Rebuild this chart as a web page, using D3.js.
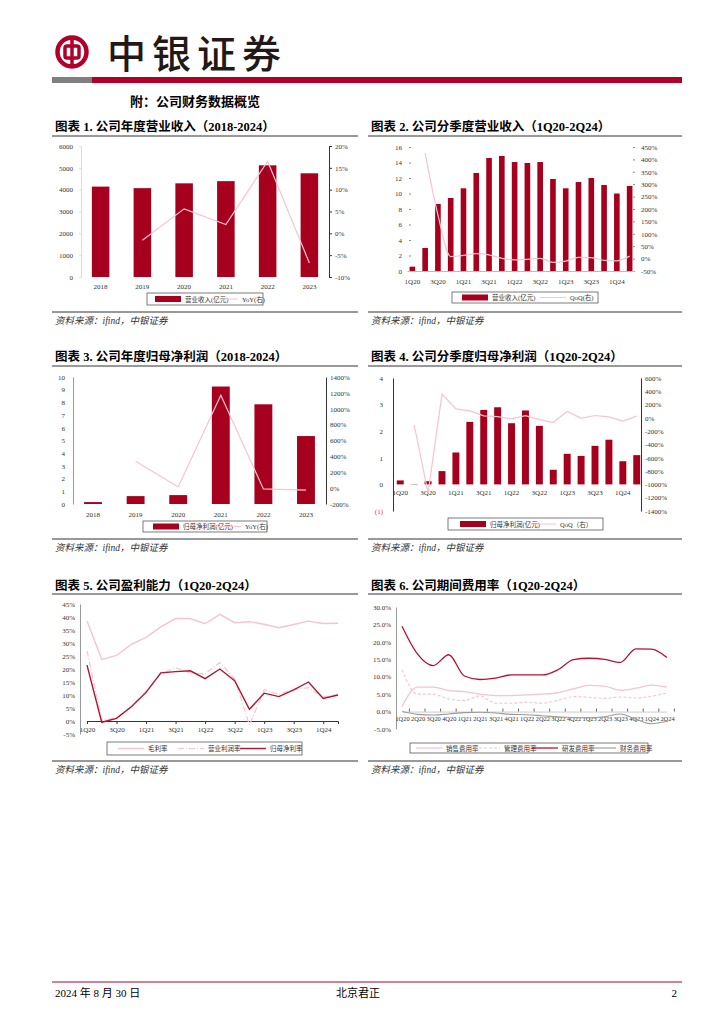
<!DOCTYPE html>
<html>
<head>
<meta charset="utf-8">
<script src="https://cdn.jsdelivr.net/npm/d3@7"></script>
<style>
  body { margin: 0; background: #fff; }
  svg { display: block; }
  text { font-family: "Liberation Serif", "Noto Sans CJK SC", serif; }
</style>
</head>
<body>
<svg id="page" width="724" height="1024"></svg>
<script>
// ---- data ----
const years = ["2018", "2019", "2020", "2021", "2022", "2023"];
const quarters = ["1Q20", "2Q20", "3Q20", "4Q20", "1Q21", "2Q21", "3Q21", "4Q21", "1Q22", "2Q22",
  "3Q22", "4Q22", "1Q23", "2Q23", "3Q23", "4Q23", "1Q24", "2Q24"];

const annualRevenue = [4140, 4070, 4290, 4390, 5115, 4750];
const annualRevenueYoY = [null, -1.6, 5.6, 2.0, 16.5, -6.8];

const qRevenue = [0.56, 2.97, 8.65, 9.42, 10.67, 12.65, 14.58, 14.84, 14.06, 13.94, 14.06, 11.87,
  10.67, 11.48, 12.0, 11.1, 10.0, 10.97];
const qRevenueQoQ = [null, 425, 176, 8, 13, 20, 15, 1, -5, -3, 1, -15, -10, 5, 4, -7, -9, 10];

const annualProfit = [0.15, 0.62, 0.7, 9.25, 7.85, 5.35];
const annualProfitYoY = [null, 338, 15, 1170, -10, -25];

const qProfit = [0.15, -0.01, 0.12, 0.5, 1.2, 2.35, 2.8, 2.9, 2.3, 2.78, 2.2, 0.55, 1.15, 1.07,
  1.45, 1.68, 0.87, 1.1];
const qProfitQoQ = [null, -106, -1130, 358, 136, 106, 30, 20, -15, 35, -25, -70, 100, -7, 36, 16, -48, 26];

const grossMargin = [38.5, 23.7, 25.2, 29.5, 32.2, 36.2, 39.4, 39.4, 37.4, 41.0, 37.8, 38.2,
  37.2, 35.9, 37.1, 38.4, 37.5, 37.6];
const opMargin = [27, 0.3, 1.2, 5.5, 11.5, 18.2, 20.5, 18.5, 18.2, 22.5, 16.2, -1.5,
  12, 10.2, 12.2, 12.8, 9.2, 10.3];
const netMargin = [21.5, -0.5, 1.0, 5.5, 11.0, 18.5, 19.0, 19.3, 16.3, 20.0, 15.5, 4.5,
  10.7, 9.4, 12.0, 15.0, 8.7, 10.0];

const salesRate = [1.5, 7.0, 7.0, 6.0, 5.7, 5.0, 4.6, 4.6, 4.8, 5.0, 5.4, 6.5, 7.5, 7.3, 6.1, 6.7, 7.6, 7.0];
const adminRate = [12, 5.0, 5.0, 3.6, 3.2, 4.5, 2.4, 2.4, 2.7, 2.4, 3.2, 4.3, 4.1, 3.8, 4.2, 3.9, 4.4, 5.3];
const rdRate = [24.5, 16.5, 13.2, 16.3, 10.2, 9.2, 9.6, 10.5, 10.5, 10.5, 12.0, 14.9, 15.3, 15.0, 14.1,
  18.0, 17.9, 15.5];
const finRate = [0, -0.8, -1.0, -0.7, -0.3, -0.2, -0.4, -0.8, -0.9, -1.2, -1.5, -1.7, -1.8, -1.5, -0.7,
  -2.2, -3.5, -2.8];

// ---- styles ----
const RED = "#A6001E";
const BRAND = "#B0002A";
const PINK = "#F6C4CE";
const DARKLINE = "#B3132F";
const GREY = "#9A9A9A";

const svg = d3.select("#page");

// ---- header ----
const logo = svg.append("g").attr("transform", "translate(72,52)");
logo.append("circle").attr("r", 14.5).attr("fill", "none").attr("stroke", BRAND).attr("stroke-width", 4.5);
logo.append("rect").attr("x", -7).attr("y", -6).attr("width", 14).attr("height", 12).attr("rx", 2)
  .attr("fill", "none").attr("stroke", BRAND).attr("stroke-width", 3.5);
logo.append("line").attr("x1", 0).attr("x2", 0).attr("y1", -14).attr("y2", 14)
  .attr("stroke", BRAND).attr("stroke-width", 3.5);

svg.append("text").attr("x", 107).attr("y", 68).attr("font-size", 39).attr("letter-spacing", 6)
  .attr("fill", "#231815").style("font-family", "'Noto Sans CJK SC'").style("font-weight", 500)
  .text("中银证券");

svg.append("rect").attr("x", 52).attr("y", 77).attr("width", 630).attr("height", 6).attr("fill", BRAND);
svg.append("rect").attr("x", 52).attr("y", 77).attr("width", 40).attr("height", 6).attr("fill", "#7F7F7F");

svg.append("text").attr("x", 130).attr("y", 106).attr("font-size", 13).attr("font-weight", "bold")
  .text("附：公司财务数据概览");

// ---- footer ----
svg.append("line").attr("x1", 52).attr("x2", 682).attr("y1", 982).attr("y2", 982)
  .attr("stroke", BRAND).attr("stroke-width", 1);
svg.append("text").attr("x", 55).attr("y", 997).attr("font-size", 11).text("2024 年 8 月 30 日");
svg.append("text").attr("x", 358).attr("y", 997).attr("font-size", 11).attr("text-anchor", "middle").text("北京君正");
svg.append("text").attr("x", 677).attr("y", 997).attr("font-size", 11).attr("text-anchor", "end").text("2");

// ---- panel frame ----
function panel(x0, x1, titleY, lineY, bottomY, title) {
  svg.append("text").attr("x", x0 + 3).attr("y", titleY).attr("font-size", 12.5)
    .attr("font-weight", "bold").text(title);
  svg.append("line").attr("x1", x0).attr("x2", x1).attr("y1", lineY).attr("y2", lineY)
    .attr("stroke", "#333").attr("stroke-width", 1);
  svg.append("line").attr("x1", x0).attr("x2", x1).attr("y1", bottomY).attr("y2", bottomY)
    .attr("stroke", "#333").attr("stroke-width", 1);
  svg.append("text").attr("x", x0 + 3).attr("y", bottomY + 12).attr("font-size", 9.5)
    .attr("font-style", "italic").attr("fill", "#333").text("资料来源：ifind，中银证券");
}

function styleAxis(g, domainColor, tickColor) {
  g.selectAll("text").attr("font-size", 7).attr("fill", "#333");
  g.select(".domain").attr("stroke", domainColor || "none");
  g.selectAll(".tick line").attr("stroke", tickColor || "#666");
}

function legend(x, y, w, h, items) {
  svg.append("rect").attr("x", x).attr("y", y).attr("width", w).attr("height", h)
    .attr("fill", "#fff").attr("stroke", "#444").attr("stroke-width", 0.7);
  items.forEach(it => {
    const cy = y + h / 2;
    if (it.type === "bar") {
      svg.append("rect").attr("x", it.x).attr("y", cy - 3).attr("width", 26).attr("height", 6).attr("fill", it.color);
    } else {
      svg.append("line").attr("x1", it.x).attr("x2", it.x + 26).attr("y1", cy).attr("y2", cy)
        .attr("stroke", it.color).attr("stroke-width", it.width || 1)
        .attr("stroke-dasharray", it.dash || null);
    }
    svg.append("text").attr("x", it.x + 30).attr("y", cy + 2.5).attr("font-size", 6.5)
      .attr("fill", "#333").text(it.label);
  });
}

// ---- chart 1 ----
panel(52, 358, 131, 136, 312, "图表 1. 公司年度营业收入（2018-2024）");
{
  const x = d3.scaleBand().domain(years).range([81, 329]).paddingInner(0.58).paddingOuter(0.26);
  const yL = d3.scaleLinear().domain([0, 6000]).range([277, 146]);
  const yR = d3.scaleLinear().domain([-10, 20]).range([277, 146]);
  svg.append("g").selectAll("rect").data(annualRevenue).join("rect")
    .attr("x", (d, i) => x(years[i])).attr("width", x.bandwidth())
    .attr("y", d => yL(d)).attr("height", d => yL(0) - yL(d)).attr("fill", RED);
  styleAxis(svg.append("g").attr("transform", "translate(81,0)")
    .call(d3.axisLeft(yL).tickValues(d3.range(0, 6001, 1000)).tickFormat(d3.format("d"))
      .tickSize(2).tickPadding(6)), "#ddd", "#ddd");
  styleAxis(svg.append("g").attr("transform", "translate(329,0)")
    .call(d3.axisRight(yR).tickValues(d3.range(-10, 21, 5)).tickSize(3).tickFormat(d => d + "%")), "#333", "#333");
  styleAxis(svg.append("g").attr("transform", "translate(0,277)")
    .call(d3.axisBottom(x).tickSize(0).tickPadding(7)), "none");
  const line = d3.line().defined(d => d != null).x((d, i) => x(years[i]) + x.bandwidth() / 2).y(d => yR(d));
  svg.append("path").datum(annualRevenueYoY).attr("d", line).attr("fill", "none")
    .attr("stroke", PINK).attr("stroke-width", 1.2);
  legend(147, 293, 116, 12, [
    { type: "bar", x: 155, color: RED, label: "营业收入(亿元)" },
    { type: "line", x: 212, color: PINK, label: "YoY(右)" }
  ]);
}

// ---- chart 2 ----
panel(368, 682, 131, 136, 312, "图表 2. 公司分季度营业收入（1Q20-2Q24）");
{
  const x = d3.scaleBand().domain(quarters).range([407, 635]).paddingInner(0.56).paddingOuter(0.2);
  const yL = d3.scaleLinear().domain([0, 16]).range([271, 147]);
  const yR = d3.scaleLinear().domain([-50, 450]).range([271, 147]);
  svg.append("g").selectAll("rect").data(qRevenue).join("rect")
    .attr("x", (d, i) => x(quarters[i])).attr("width", x.bandwidth())
    .attr("y", d => yL(d)).attr("height", d => yL(0) - yL(d)).attr("fill", RED);
  styleAxis(svg.append("g").attr("transform", "translate(411,0)")
    .call(d3.axisLeft(yL).tickValues(d3.range(0, 17, 2)).tickSize(2).tickPadding(7)), "none", "#888");
  styleAxis(svg.append("g").attr("transform", "translate(633,0)")
    .call(d3.axisRight(yR).tickValues(d3.range(-50, 451, 50)).tickSize(2).tickPadding(6).tickFormat(d => d + "%")), "none", "#888");
  const xa = svg.append("g").attr("transform", "translate(0,271)")
    .call(d3.axisBottom(x).tickValues(quarters.filter((q, i) => i % 2 === 0)).tickSize(0).tickPadding(8));
  styleAxis(xa, "#bbb");
  const line = d3.line().defined(d => d != null).curve(d3.curveMonotoneX)
    .x((d, i) => x(quarters[i]) + x.bandwidth() / 2).y(d => yR(d));
  svg.append("path").datum(qRevenueQoQ).attr("d", line).attr("fill", "none")
    .attr("stroke", PINK).attr("stroke-width", 1.2);
  legend(452, 292, 146, 11, [
    { type: "bar", x: 462, color: RED, label: "营业收入(亿元)" },
    { type: "line", x: 540, color: PINK, label: "QoQ(右)" }
  ]);
}

// ---- chart 3 ----
panel(52, 358, 361, 366, 539, "图表 3. 公司年度归母净利润（2018-2024）");
{
  const x = d3.scaleBand().domain(years).range([73, 326]).paddingInner(0.58).paddingOuter(0.26);
  const yL = d3.scaleLinear().domain([0, 10]).range([504, 377]);
  const yR = d3.scaleLinear().domain([-200, 1400]).range([504, 377]);
  svg.append("g").selectAll("rect").data(annualProfit).join("rect")
    .attr("x", (d, i) => x(years[i])).attr("width", x.bandwidth())
    .attr("y", d => yL(d)).attr("height", d => yL(0) - yL(d)).attr("fill", RED);
  styleAxis(svg.append("g").attr("transform", "translate(73,0)")
    .call(d3.axisLeft(yL).tickValues(d3.range(0, 11, 1)).tickSize(0).tickPadding(8)), "#999");
  styleAxis(svg.append("g").attr("transform", "translate(326,0)")
    .call(d3.axisRight(yR).tickValues(d3.range(-200, 1401, 200)).tickSize(0).tickPadding(4).tickFormat(d => d + "%")), "#333");
  styleAxis(svg.append("g").attr("transform", "translate(0,504)")
    .call(d3.axisBottom(x).tickSize(0).tickPadding(8)), "none");
  const line = d3.line().defined(d => d != null).x((d, i) => x(years[i]) + x.bandwidth() / 2).y(d => yR(d));
  svg.append("path").datum(annualProfitYoY).attr("d", line).attr("fill", "none")
    .attr("stroke", PINK).attr("stroke-width", 1.2);
  legend(143, 521, 124, 11, [
    { type: "bar", x: 153, color: RED, label: "归母净利润(亿元)" },
    { type: "line", x: 215, color: PINK, label: "YoY(右)" }
  ]);
}

// ---- chart 4 ----
panel(368, 682, 361, 366, 539, "图表 4. 公司分季度归母净利润（1Q20-2Q24）");
{
  const x = d3.scaleBand().domain(quarters).range([394, 643]).paddingInner(0.5).paddingOuter(0.2);
  const yL = d3.scaleLinear().domain([-1, 4]).range([511, 378]);
  const yR = d3.scaleLinear().domain([-1400, 600]).range([511, 378]);
  svg.append("g").selectAll("rect").data(qProfit).join("rect")
    .attr("x", (d, i) => x(quarters[i])).attr("width", x.bandwidth())
    .attr("y", d => yL(Math.max(d, 0))).attr("height", d => Math.abs(yL(0) - yL(d))).attr("fill", RED);
  const al = svg.append("g").attr("transform", "translate(393,0)")
    .call(d3.axisLeft(yL).tickValues(d3.range(-1, 5, 1)).tickSize(0).tickPadding(10)
      .tickFormat(d => d < 0 ? "(" + Math.abs(d) + ")" : d));
  styleAxis(al, "#333");
  al.selectAll("text").filter(d => d < 0).attr("fill", "#E0303A");
  styleAxis(svg.append("g").attr("transform", "translate(641,0)")
    .call(d3.axisRight(yR).tickValues(d3.range(-1400, 601, 200)).tickSize(0).tickPadding(4).tickFormat(d => d + "%")), "#333");
  styleAxis(svg.append("g").attr("transform", "translate(0," + yL(0) + ")")
    .call(d3.axisBottom(x).tickValues(quarters.filter((q, i) => i % 2 === 0)).tickSize(0).tickPadding(6)), "none");
  const line = d3.line().defined(d => d != null)
    .x((d, i) => x(quarters[i]) + x.bandwidth() / 2).y(d => yR(d));
  svg.append("path").datum(qProfitQoQ).attr("d", line).attr("fill", "none")
    .attr("stroke", PINK).attr("stroke-width", 1.2);
  legend(448, 518, 155, 12, [
    { type: "bar", x: 460, color: RED, label: "归母净利润(亿元)" },
    { type: "line", x: 530, color: PINK, label: "QoQ（右）" }
  ]);
}

// ---- chart 5 ----
panel(52, 358, 590, 594, 761, "图表 5. 公司盈利能力（1Q20-2Q24）");
{
  const x = d3.scalePoint().domain(quarters).range([87, 338]);
  const y = d3.scaleLinear().domain([-5, 45]).range([734, 604]);
  styleAxis(svg.append("g").attr("transform", "translate(80,0)")
    .call(d3.axisLeft(y).tickValues(d3.range(-5, 46, 5)).tickSize(0).tickPadding(5).tickFormat(d => d + "%")), "#999");
  styleAxis(svg.append("g").attr("transform", "translate(0," + y(0) + ")")
    .call(d3.axisBottom(x).tickValues(quarters.filter((q, i) => i % 2 === 0)).tickSize(3).tickPadding(3)), "#333", "#333");
  const mk = arr => d3.line().x((d, i) => x(quarters[i])).y(d => y(d))(arr);
  svg.append("path").attr("d", mk(grossMargin)).attr("fill", "none").attr("stroke", PINK).attr("stroke-width", 1.4);
  svg.append("path").attr("d", mk(opMargin)).attr("fill", "none").attr("stroke", PINK)
    .attr("stroke-width", 1.2).attr("stroke-dasharray", "6,2,1,2");
  svg.append("path").attr("d", mk(netMargin)).attr("fill", "none").attr("stroke", DARKLINE).attr("stroke-width", 1.4);
  legend(107, 742, 195, 13, [
    { type: "line", x: 118, color: PINK, width: 1.4, label: "毛利率" },
    { type: "line", x: 178, color: PINK, width: 1.2, dash: "6,2,1,2", label: "营业利润率" },
    { type: "line", x: 240, color: DARKLINE, width: 1.4, label: "归母净利率" }
  ]);
}

// ---- chart 6 ----
panel(368, 682, 590, 594, 761, "图表 6. 公司期间费用率（1Q20-2Q24）");
{
  const x = d3.scalePoint().domain(quarters).range([402, 667]);
  const y = d3.scaleLinear().domain([-5, 30]).range([729, 607]);
  styleAxis(svg.append("g").attr("transform", "translate(396,0)")
    .call(d3.axisLeft(y).tickValues(d3.range(-5, 31, 5)).tickSize(0).tickPadding(5).tickFormat(d => d.toFixed(1) + "%")), "#999");
  const xa = svg.append("g").attr("transform", "translate(0," + y(0) + ")")
    .call(d3.axisBottom(x).tickSize(0).tickPadding(5));
  styleAxis(xa, "#ccc");
  xa.selectAll("text").attr("font-size", 6.4);
  svg.append("g").selectAll("line").data(quarters).join("line")
    .attr("x1", d => x(d) + 7.4).attr("x2", d => x(d) + 7.4).attr("y1", y(0) - 3).attr("y2", y(0))
    .attr("stroke", "#666");
  const mk = arr => d3.line().curve(d3.curveMonotoneX).x((d, i) => x(quarters[i])).y(d => y(d))(arr);
  svg.append("path").attr("d", mk(salesRate)).attr("fill", "none").attr("stroke", PINK).attr("stroke-width", 1.3);
  svg.append("path").attr("d", mk(adminRate)).attr("fill", "none").attr("stroke", PINK)
    .attr("stroke-width", 1.1).attr("stroke-dasharray", "3,2");
  svg.append("path").attr("d", mk(rdRate)).attr("fill", "none").attr("stroke", DARKLINE).attr("stroke-width", 1.3);
  svg.append("path").attr("d", mk(finRate)).attr("fill", "none").attr("stroke", GREY).attr("stroke-width", 1.1);
  legend(410, 743, 238, 10, [
    { type: "line", x: 416, color: PINK, width: 1.3, label: "销售费用率" },
    { type: "line", x: 474, color: PINK, width: 1.1, dash: "3,2", label: "管理费用率" },
    { type: "line", x: 532, color: DARKLINE, width: 1.3, label: "研发费用率" },
    { type: "line", x: 590, color: GREY, width: 1.1, label: "财务费用率" }
  ]);
}
</script>
</body>
</html>
